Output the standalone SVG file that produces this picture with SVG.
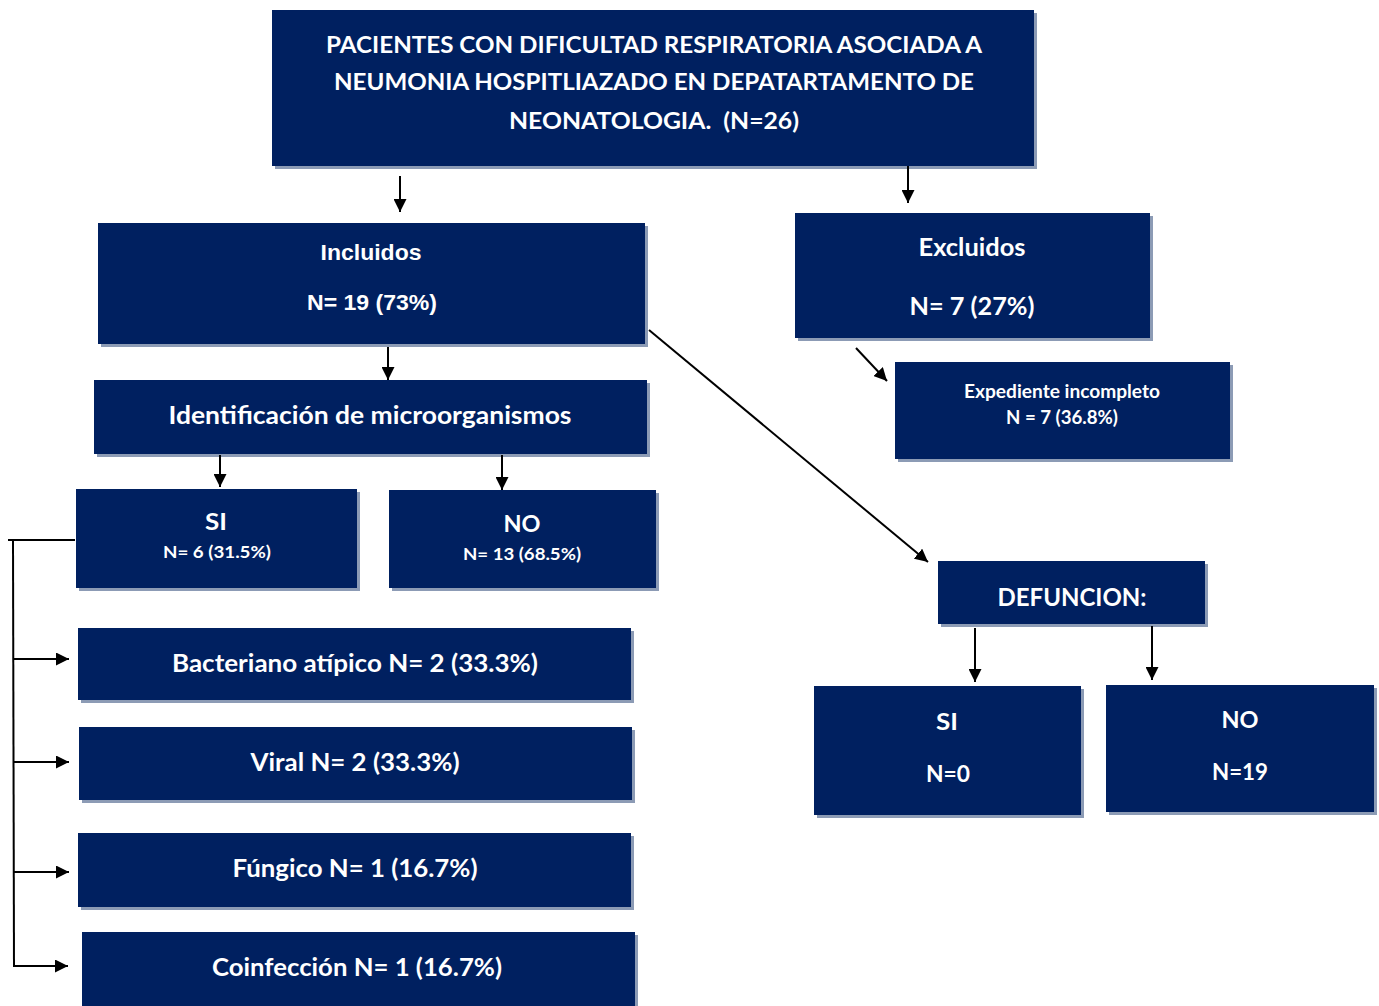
<svg xmlns="http://www.w3.org/2000/svg" width="1379" height="1006" viewBox="0 0 1379 1006">
<style>
.box{fill:#002060}
.sh{fill:#8c9bb5}
.t{fill:#ffffff;font-family:Lato,"Open Sans","Liberation Sans",sans-serif;font-weight:700;text-anchor:middle}
.a{fill:#ffffff;font-family:"Liberation Sans",Arial,sans-serif;font-weight:700;text-anchor:middle}
.c{stroke:#000;stroke-width:2;fill:none}
</style>
<defs>
<marker id="ah" viewBox="0 0 10 10" refX="10" refY="5" markerWidth="6.5" markerHeight="6.5" markerUnits="strokeWidth" orient="auto">
<path d="M0,0 L10,5 L0,10 z" fill="#000"/>
</marker>
</defs>
<rect width="1379" height="1006" fill="#ffffff"/>

<g id="top">
<rect class="sh" x="275" y="13" width="762" height="156"/>
<rect class="box" x="272" y="10" width="762" height="156"/>
<text class="t" x="654" y="53" font-size="23" textLength="656" lengthAdjust="spacingAndGlyphs">PACIENTES CON DIFICULTAD RESPIRATORIA ASOCIADA A</text>
<text class="t" x="654" y="90" font-size="23" textLength="640" lengthAdjust="spacingAndGlyphs">NEUMONIA HOSPITLIAZADO EN DEPATARTAMENTO DE</text>
<text class="t" x="654" y="129" font-size="23" textLength="290" lengthAdjust="spacingAndGlyphs">NEONATOLOGIA.&#160; (N=26)</text>
</g>

<g id="incluidos">
<rect class="sh" x="101" y="226" width="547" height="121"/>
<rect class="box" x="98" y="223" width="547" height="121"/>
<text class="a" x="371" y="260" font-size="22" textLength="101" lengthAdjust="spacingAndGlyphs">Incluidos</text>
<text class="a" x="372" y="310" font-size="22" textLength="130" lengthAdjust="spacingAndGlyphs">N= 19 (73%)</text>
</g>

<g id="excluidos">
<rect class="sh" x="798" y="216" width="355" height="125"/>
<rect class="box" x="795" y="213" width="355" height="125"/>
<text class="t" x="972" y="256" font-size="24" textLength="107" lengthAdjust="spacingAndGlyphs">Excluidos</text>
<text class="t" x="972" y="315" font-size="24" textLength="125" lengthAdjust="spacingAndGlyphs">N= 7 (27%)</text>
</g>

<g id="expediente">
<rect class="sh" x="898" y="365" width="335" height="97"/>
<rect class="box" x="895" y="362" width="335" height="97"/>
<text class="t" x="1062" y="398" font-size="19" textLength="196" lengthAdjust="spacingAndGlyphs">Expediente incompleto</text>
<text class="t" x="1062" y="424" font-size="18" textLength="112" lengthAdjust="spacingAndGlyphs">N = 7 (36.8%)</text>
</g>

<g id="identificacion">
<rect class="sh" x="97" y="383" width="553" height="74"/>
<rect class="box" x="94" y="380" width="553" height="74"/>
<text class="t" x="370" y="424" font-size="25" textLength="403" lengthAdjust="spacingAndGlyphs">Identificación de microorganismos</text>
</g>

<g id="si-micro">
<rect class="sh" x="79" y="492" width="281" height="99"/>
<rect class="box" x="76" y="489" width="281" height="99"/>
<text class="t" x="216" y="530" font-size="22" textLength="22" lengthAdjust="spacingAndGlyphs">SI</text>
<text class="t" x="217" y="558" font-size="17" textLength="108" lengthAdjust="spacingAndGlyphs">N= 6 (31.5%)</text>
</g>

<g id="no-micro">
<rect class="sh" x="392" y="493" width="267" height="98"/>
<rect class="box" x="389" y="490" width="267" height="98"/>
<text class="t" x="522" y="532" font-size="22" textLength="37" lengthAdjust="spacingAndGlyphs">NO</text>
<text class="t" x="522" y="560" font-size="17" textLength="118" lengthAdjust="spacingAndGlyphs">N= 13 (68.5%)</text>
</g>

<g id="defuncion">
<rect class="sh" x="941" y="564" width="267" height="63"/>
<rect class="box" x="938" y="561" width="267" height="63"/>
<text class="t" x="1072" y="606" font-size="24" textLength="149" lengthAdjust="spacingAndGlyphs">DEFUNCION:</text>
</g>

<g id="si-def">
<rect class="sh" x="817" y="689" width="267" height="129"/>
<rect class="box" x="814" y="686" width="267" height="129"/>
<text class="t" x="947" y="730" font-size="22" textLength="22" lengthAdjust="spacingAndGlyphs">SI</text>
<text class="t" x="948" y="782" font-size="22" textLength="44" lengthAdjust="spacingAndGlyphs">N=0</text>
</g>

<g id="no-def">
<rect class="sh" x="1109" y="688" width="268" height="127"/>
<rect class="box" x="1106" y="685" width="268" height="127"/>
<text class="t" x="1240" y="728" font-size="22" textLength="37" lengthAdjust="spacingAndGlyphs">NO</text>
<text class="t" x="1240" y="780" font-size="22" textLength="56" lengthAdjust="spacingAndGlyphs">N=19</text>
</g>

<g id="bacteriano">
<rect class="sh" x="81" y="631" width="553" height="72"/>
<rect class="box" x="78" y="628" width="553" height="72"/>
<text class="t" x="355" y="672" font-size="25" textLength="366" lengthAdjust="spacingAndGlyphs">Bacteriano atípico N= 2 (33.3%)</text>
</g>

<g id="viral">
<rect class="sh" x="82" y="730" width="553" height="73"/>
<rect class="box" x="79" y="727" width="553" height="73"/>
<text class="t" x="355" y="771" font-size="25" textLength="209" lengthAdjust="spacingAndGlyphs">Viral N= 2 (33.3%)</text>
</g>

<g id="fungico">
<rect class="sh" x="81" y="836" width="553" height="74"/>
<rect class="box" x="78" y="833" width="553" height="74"/>
<text class="t" x="355" y="877" font-size="25" textLength="245" lengthAdjust="spacingAndGlyphs">Fúngico N= 1 (16.7%)</text>
</g>

<g id="coinfeccion">
<rect class="sh" x="85" y="935" width="553" height="74"/>
<rect class="box" x="82" y="932" width="553" height="74"/>
<text class="t" x="357" y="976" font-size="25" textLength="290" lengthAdjust="spacingAndGlyphs">Coinfección N= 1 (16.7%)</text>
</g>

<g id="connectors">
<line class="c" x1="400" y1="176" x2="400" y2="212" marker-end="url(#ah)"/>
<line class="c" x1="908" y1="166" x2="908" y2="203" marker-end="url(#ah)"/>
<line class="c" x1="388" y1="347" x2="388" y2="380" marker-end="url(#ah)"/>
<line class="c" x1="220" y1="455" x2="220" y2="487" marker-end="url(#ah)"/>
<line class="c" x1="502" y1="455" x2="502" y2="490" marker-end="url(#ah)"/>
<line class="c" x1="649" y1="330" x2="928" y2="562" marker-end="url(#ah)"/>
<line class="c" x1="856" y1="348" x2="887" y2="381" marker-end="url(#ah)"/>
<line class="c" x1="975" y1="628" x2="975" y2="682" marker-end="url(#ah)"/>
<line class="c" x1="1152" y1="626" x2="1152" y2="680" marker-end="url(#ah)"/>
<polyline class="c" points="75,540 8,540"/>
<line class="c" x1="13" y1="540" x2="14" y2="967"/>
<line class="c" x1="14" y1="659" x2="69" y2="659" marker-end="url(#ah)"/>
<line class="c" x1="14" y1="762" x2="69" y2="762" marker-end="url(#ah)"/>
<line class="c" x1="14" y1="872" x2="69" y2="872" marker-end="url(#ah)"/>
<line class="c" x1="14" y1="966" x2="68" y2="966" marker-end="url(#ah)"/>
</g>
</svg>
